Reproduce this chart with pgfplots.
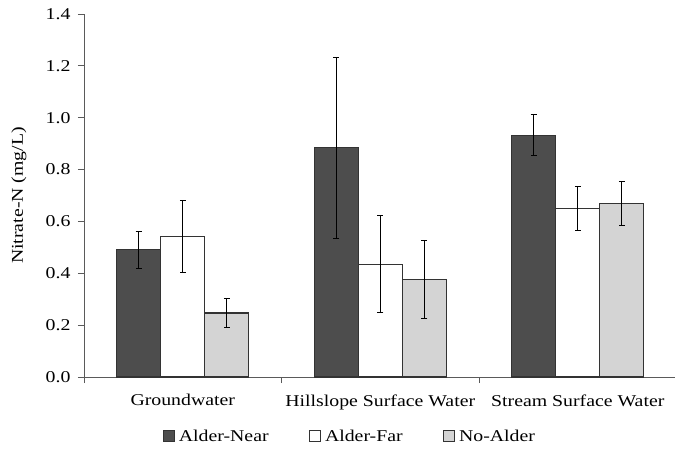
\documentclass[border=0pt]{standalone}
\usepackage{pgfplots}
\pgfplotsset{compat=1.18}
\usepackage{fontspec}
\setmainfont{Liberation Serif}[FakeStretch=1.2]
\definecolor{neargray}{HTML}{4D4D4D}
\definecolor{nogray}{HTML}{D4D4D4}
\definecolor{edgegray}{HTML}{333333}
\definecolor{axisgray}{HTML}{5A5A5A}

\pgfplotstableread{
x  y      e
0  0.491  0.072
1  0.884  0.349
2  0.932  0.079
}\near
\pgfplotstableread{
x  y      e
0  0.541  0.138
1  0.435  0.187
2  0.650  0.084
}\far
\pgfplotstableread{
x  y      e
0  0.247  0.057
1  0.376  0.151
2  0.670  0.085
}\noalder

\begin{document}
\begin{tikzpicture}[font=\fontsize{16.5bp}{19.8bp}\selectfont]
\begin{axis}[
  x=197.5bp, y=259.29bp,
  xmin=-0.5, xmax=2.49, ymin=0, ymax=1.4,
  ybar=0pt, bar width=0.223,
  axis lines*=left,
  axis line style={draw=axisgray, line width=0.9bp},
  tick align=outside,
  major tick length=6bp,
  tick style={draw=axisgray, line width=0.9bp},
  ytick={0,0.2,0.4,0.6,0.8,1.0,1.2,1.4},
  yticklabel style={xshift=-4bp, /pgf/number format/.cd, fixed, fixed zerofill, precision=1, assume math mode=true},
  xtick={-0.5,0.5,1.5},
  xticklabels={},
  extra x ticks={0,1,2},
  extra x tick labels={Groundwater, Hillslope Surface Water, Stream Surface Water},
  extra x tick style={tick style={draw=none}, xticklabel style={yshift=-8bp}},
  ylabel={Nitrate-N (mg/L)},
  ylabel style={at={(axis description cs:-0.11,0.5)}, anchor=center, rotate=0},
  legend style={at={(rel axis cs:0.45,-0.165)}, anchor=center, draw=none, fill=none,
    legend columns=3, /tikz/every even column/.append style={column sep=38bp},
    font=\fontsize{16.5bp}{19.8bp}\selectfont},
  legend image code/.code={\draw[#1, line width=0.8bp] (0bp,-5bp) rectangle (11bp,6bp); \path[draw=none, fill=none] (0bp,0bp) -- (14bp,0bp);},
  error bars/y dir=both, error bars/y explicit,
  error bars/error bar style={black, line width=0.9bp},
  error bars/error mark options={rotate=90, mark size=3bp, black, line width=0.9bp},
]
\addplot[fill=neargray, draw=edgegray, line width=1.1bp] table[x=x, y=y, y error=e] {\near};
\addplot[fill=white, draw=edgegray, line width=1.1bp] table[x=x, y=y, y error=e] {\far};
\addplot[fill=nogray, draw=edgegray, line width=1.1bp] table[x=x, y=y, y error=e] {\noalder};
\legend{Alder-Near, Alder-Far, No-Alder}
\end{axis}
\pgfresetboundingbox
\path (-84bp,-81bp) rectangle (591bp,377bp);
\end{tikzpicture}
\end{document}
